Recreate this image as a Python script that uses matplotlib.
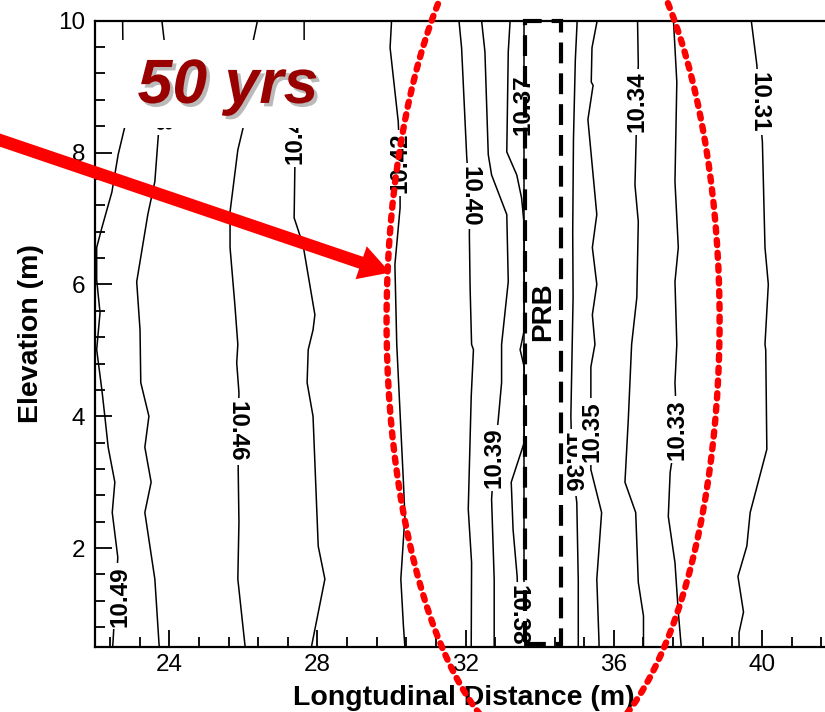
import matplotlib
matplotlib.use("Agg")
import matplotlib.pyplot as plt
import matplotlib.patheffects as pe
from matplotlib import font_manager
from matplotlib.patches import Rectangle, Ellipse, FancyArrowPatch, ArrowStyle
from matplotlib.ticker import MultipleLocator

plt.rcParams['font.family'] = ['Liberation Sans', 'DejaVu Sans']

# ---- hydraulic head contours (x = longitudinal distance, y = elevation) ----
h1049_x = [22.74, 22.76, 22.79, 22.62, 22.45, 22.18, 22.04, 22.04, 22.13, 22.04, 22.18, 22.26, 22.35, 22.53, 22.46, 22.61, 22.48, 22.47]
h1049_y = [10.00, 9.10, 8.37, 7.97, 7.40, 6.86, 6.56, 6.07, 5.57, 5.01, 4.40, 4.00, 3.53, 3.00, 2.54, 1.86, 0.57, 0.50]

h1048_x = [23.80, 23.86, 23.80, 23.75, 23.69, 23.61, 23.42, 23.12, 23.21, 23.23, 23.45, 23.34, 23.51, 23.34, 23.61, 23.72, 23.73]
h1048_y = [10.00, 9.71, 9.10, 8.60, 8.16, 7.56, 7.06, 6.04, 5.31, 4.51, 4.00, 3.53, 3.00, 2.54, 1.53, 0.57, 0.50]

h1046_x = [26.38, 26.27, 25.99, 25.85, 25.64, 25.64, 25.77, 25.85, 25.82, 25.88, 25.86, 25.86, 25.88, 25.85, 26.04, 26.05]
h1046_y = [10.00, 9.71, 8.37, 8.04, 7.10, 6.56, 5.69, 5.09, 4.81, 4.36, 3.77, 3.19, 2.39, 1.53, 0.54, 0.50]

h1044_x = [27.64, 27.64, 27.45, 27.39, 27.39, 27.37, 27.61, 27.93, 27.88, 27.75, 27.72, 27.88, 28.02, 28.20, 27.85, 27.84]
h1044_y = [10.00, 9.71, 8.80, 8.28, 7.80, 7.01, 6.60, 5.54, 5.31, 5.01, 4.51, 4.00, 2.03, 1.53, 0.54, 0.50]

h1042_x = [30.00, 29.96, 30.18, 30.23, 30.23, 30.09, 30.14, 30.32, 30.36, 30.25, 30.32, 30.36]
h1042_y = [10.00, 9.59, 8.47, 7.84, 7.16, 6.30, 5.09, 3.00, 2.48, 1.53, 0.82, 0.50]

h1040_x = [31.82, 31.89, 32.03, 32.11, 32.10, 32.12, 32.16, 32.21, 32.15, 32.07, 32.16, 32.15]
h1040_y = [10.00, 9.59, 7.92, 7.34, 6.75, 5.95, 5.09, 5.01, 4.30, 2.59, 1.78, 0.50]

h1039_x = [32.43, 32.52, 32.61, 32.70, 33.11, 33.15, 32.97, 32.97, 32.88, 32.77, 32.70, 32.77, 32.77]
h1039_y = [10.00, 9.53, 7.97, 7.66, 7.06, 6.04, 5.09, 4.51, 3.95, 3.37, 2.74, 1.53, 0.50]

h1038_x = [33.20, 33.15, 33.11, 33.38, 33.51, 33.58, 33.58, 33.47, 33.58, 33.58, 33.23, 33.28, 33.39, 33.42, 33.42]
h1038_y = [10.00, 9.53, 8.01, 7.66, 7.31, 6.90, 5.30, 5.01, 4.75, 3.60, 3.00, 2.28, 1.57, 1.00, 0.50]

h1037_x = [33.58, 33.58, 33.58]
h1037_y = [10.00, 5.00, 0.50]

h1036_x = [35.01, 34.96, 34.91, 34.89, 34.90, 34.84, 34.87, 35.00, 35.04, 35.04]
h1036_y = [10.00, 9.40, 8.20, 6.80, 5.80, 4.00, 3.30, 2.69, 1.50, 0.50]

h1035_x = [35.55, 35.41, 35.39, 35.44, 35.30, 35.54, 35.42, 35.54, 35.42, 35.49, 35.38, 35.38, 35.38, 35.38, 35.67, 35.54, 35.60, 35.60]
h1035_y = [10.00, 9.59, 9.07, 9.02, 8.50, 7.06, 6.56, 6.00, 5.54, 5.09, 4.75, 4.33, 3.77, 3.19, 2.54, 1.53, 0.57, 0.50]

h1034_x = [36.64, 36.66, 36.62, 36.60, 36.57, 36.66, 36.62, 36.48, 36.39, 36.30, 36.59, 36.66, 36.80, 36.80]
h1034_y = [10.00, 9.33, 8.77, 8.16, 7.51, 6.95, 5.80, 5.09, 3.95, 3.00, 2.54, 1.48, 0.97, 0.50]

h1033_x = [37.61, 37.70, 37.65, 37.74, 37.65, 37.70, 37.65, 37.70, 37.52, 37.47, 37.65, 37.74, 37.82]
h1033_y = [10.00, 9.07, 7.56, 6.56, 6.04, 5.09, 4.51, 3.80, 3.15, 2.48, 1.78, 1.03, 0.50]

h1031_x = [39.71, 39.86, 39.92, 40.01, 40.08, 40.17, 40.08, 40.10, 40.13, 39.68, 39.59, 39.35, 39.50, 39.38, 39.38]
h1031_y = [10.00, 9.33, 8.77, 8.16, 6.56, 6.00, 5.09, 5.01, 3.50, 2.54, 2.03, 1.57, 1.03, 0.72, 0.50]

levels = [10.49, 10.48, 10.46, 10.44, 10.42, 10.40, 10.39, 10.38, 10.37, 10.36, 10.35, 10.34, 10.33, 10.31]
lines_x = [h1049_x, h1048_x, h1046_x, h1044_x, h1042_x, h1040_x, h1039_x,
           h1038_x, h1037_x, h1036_x, h1035_x, h1034_x, h1033_x, h1031_x]
lines_y = [h1049_y, h1048_y, h1046_y, h1044_y, h1042_y, h1040_y, h1039_y,
           h1038_y, h1037_y, h1036_y, h1035_y, h1034_y, h1033_y, h1031_y]

# contour label placement
label_x = [22.67, 23.75, 25.82, 27.39, 30.23, 32.11, 32.77, 33.42, 33.55, 34.85, 35.40, 36.62, 37.70, 39.92]
label_y = [1.27, 8.77, 3.77, 8.28, 7.84, 7.34, 3.37, 0.98, 8.72, 3.30, 3.77, 8.77, 3.80, 8.77]
label_rot = [90, 270, 270, 90, 90, 270, 90, 270, 90, 270, 90, 90, 90, 270]

# permeable reactive barrier extent
prb_x0, prb_x1 = 33.59, 34.58
prb_y0, prb_y1 = 0.55, 10.0

# highlighted zone (ellipse) and pointer arrow
zone_center = (34.36, 5.45)
zone_width, zone_height = 8.99, 13.3
arrow_start = (19.16, 8.24)
arrow_tip = (29.96, 6.18)

x_ticks = [24, 28, 32, 36, 40]
y_ticks = [2, 4, 6, 8, 10]

fig = plt.figure(figsize=(8.25, 7.12), dpi=100)
ax = fig.add_axes([0.1154, 0.0913, 0.8846, 0.8796])
ax.set_xlim(22.0, 41.70)
ax.set_ylim(0.5, 10.0)
ax.set_axisbelow(False)

names = {f.name for f in font_manager.fontManager.ttflist}
if 'Liberation Sans Narrow' in names:
    lab_font = dict(family=['Liberation Sans Narrow', 'DejaVu Sans'], size=21)
else:
    lab_font = dict(family=['Liberation Sans', 'DejaVu Sans'], size=17.5)

for lx, ly in zip(lines_x, lines_y):
    ax.plot(lx, ly, color='black', lw=1.1, zorder=1, solid_joinstyle='miter')

for lev, tx, ty, rot in zip(levels, label_x, label_y, label_rot):
    ax.text(tx, ty, f'{lev:.2f}', rotation=rot, ha='center', va='center',
            fontweight='bold', color='black', zorder=1.2, clip_on=True,
            bbox=dict(boxstyle='square,pad=0.12', fc='white', ec='none'),
            **lab_font)

# blank panel behind the time stamp
ax.add_patch(Rectangle((22.0, 8.37), 6.5, 1.34, facecolor='white',
                       edgecolor='none', zorder=2))

# PRB outline
ax.add_patch(Rectangle((prb_x0, prb_y0), prb_x1 - prb_x0, prb_y1 - prb_y0,
                       fill=False, edgecolor='black', lw=3,
                       linestyle=(0, (5, 2.4)), zorder=3, clip_on=False))
ax.text((prb_x0 + prb_x1) / 2, 5.59, 'PRB', rotation=90, ha='center',
        va='center', fontsize=20, fontweight='bold', zorder=3)

# red dashed ellipse
ax.add_patch(Ellipse(zone_center, zone_width, zone_height, fill=False,
                     edgecolor='red', lw=4.6, linestyle=(0, (0.8, 1.2)),
                     capstyle='round', clip_on=False, zorder=4))

# red arrow
ax.add_patch(FancyArrowPatch(arrow_start, arrow_tip,
                             arrowstyle=ArrowStyle.Simple(head_length=22, head_width=25, tail_width=9),
                             mutation_scale=1, color='red', lw=0,
                             shrinkA=0, shrinkB=0, clip_on=False, zorder=5))

# time stamp
ax.text(25.585, 8.753, '50 yrs', ha='center', va='baseline', fontsize=45,
        fontweight='bold', fontstyle='italic', color='#990000', zorder=6,
        path_effects=[pe.SimplePatchShadow(offset=(2.5, -2.5),
                                           shadow_rgbFace=(0.55, 0.55, 0.55),
                                           alpha=0.6),
                      pe.Normal()])

# axes styling
ax.spines['right'].set_visible(False)
for s in ('left', 'bottom', 'top'):
    ax.spines[s].set_linewidth(1.6)

ax.set_xticks(x_ticks)
ax.set_yticks(y_ticks)
ax.xaxis.set_minor_locator(MultipleLocator(0.8))
ax.yaxis.set_minor_locator(MultipleLocator(0.4))
ax.tick_params(which='both', direction='in', top=False, right=False, width=1.3)
ax.tick_params(which='major', length=12)
ax.tick_params(which='minor', length=7.5)
ax.tick_params(axis='x', which='major', labelsize=17.5, pad=5)
ax.tick_params(axis='y', which='major', labelsize=17.5, pad=7)

ax.set_xlabel('Longtudinal Distance (m)', fontsize=20.5, fontweight='bold')
ax.set_ylabel('Elevation (m)', fontsize=20.5, fontweight='bold')
ax.xaxis.set_label_coords(0.505, -0.060)
ax.yaxis.set_label_coords(-0.070, 0.501)

fig.savefig('out.png', dpi=100)
